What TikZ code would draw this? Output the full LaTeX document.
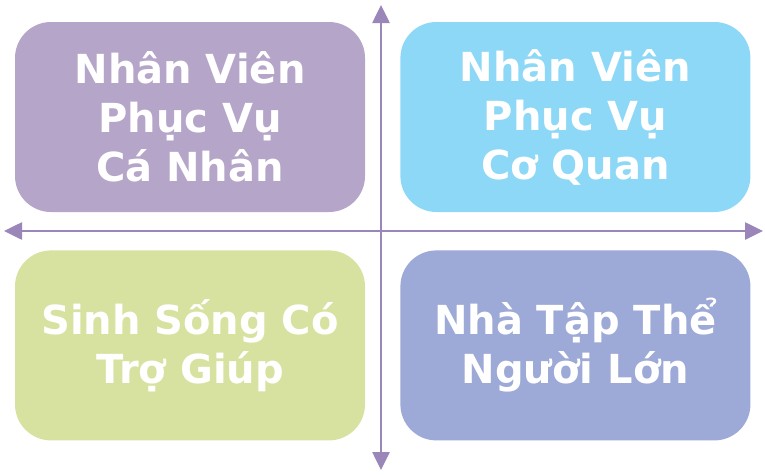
\documentclass[tikz,border=0pt]{standalone}
\usepackage{fontspec}
\setmainfont{DejaVu Sans}
\usetikzlibrary{positioning,arrows.meta}
\definecolor{quadpurple}{HTML}{B5A5C8}
\definecolor{quadblue}{HTML}{8DD8F6}
\definecolor{quadgreen}{HTML}{D8E2A0}
\definecolor{quadslate}{HTML}{9DA9D6}
\definecolor{axiscolor}{HTML}{9A86B8}

\begin{document}
\begin{tikzpicture}[x=1pt,y=-1pt,
  quad/.style={rectangle, rounded corners=36pt, minimum width=350pt, minimum height=190pt,
    text=white, align=center, font=\bfseries\fontsize{40}{49}\selectfont, inner sep=0pt},
  axis/.style={axiscolor, line width=2.6pt, {Triangle[length=18pt,width=17pt]}-{Triangle[length=18pt,width=17pt]}}]
\useasboundingbox (0,0) rectangle (765,474);
\node[quad, fill=quadpurple] (pcn) at (190,117) {Nhân Viên\\Phục Vụ\\Cá Nhân};
\node[quad, fill=quadblue, right=35pt of pcn] (pcq) {Nhân Viên\\Phục Vụ\\Cơ Quan};
\node[quad, fill=quadgreen, below=38pt of pcn] (sstg) {Sinh Sống Có\\Trợ Giúp};
\node[quad, fill=quadslate, below=38pt of pcq] (ntt) {Nhà Tập Thể\\Người Lớn};
\coordinate (top) at (381,5);
\coordinate (bottom) at (381,470);
\coordinate (left) at (4,231);
\coordinate (right) at (763,231);
\draw[axis] (top) -- (bottom);
\draw[axis] (left) -- (right);
\end{tikzpicture}
\end{document}
